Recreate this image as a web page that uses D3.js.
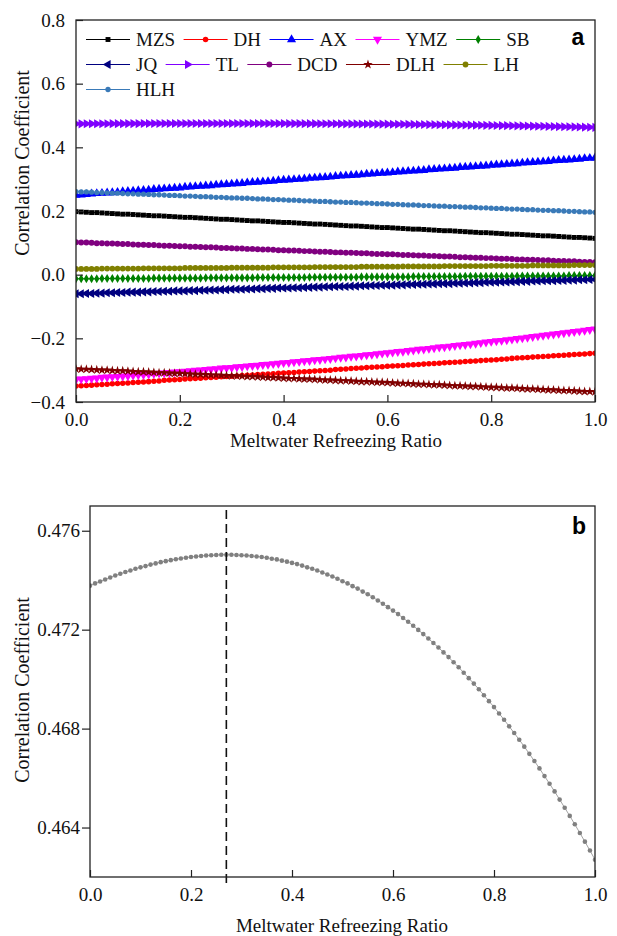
<!DOCTYPE html>
<html>
<head>
<meta charset="utf-8">
<script src="https://cdn.jsdelivr.net/npm/d3@7"></script>
<style>
    body { margin: 0; background: #fff; font-family: "Liberation Serif", Tinos, "Times New Roman", "DejaVu Serif", serif; }
</style>
</head>
<body>
<svg id="chart" width="617" height="936"></svg>
<script>
// meltwater refreezing ratio (x)
var ratio = [0,0.01,0.02,0.03,0.04,0.05,0.06,0.07,0.08,0.09,
    0.1,0.11,0.12,0.13,0.14,0.15,0.16,0.17,0.18,0.19,
    0.2,0.21,0.22,0.23,0.24,0.25,0.26,0.27,0.28,0.29,
    0.3,0.31,0.32,0.33,0.34,0.35,0.36,0.37,0.38,0.39,
    0.4,0.41,0.42,0.43,0.44,0.45,0.46,0.47,0.48,0.49,
    0.5,0.51,0.52,0.53,0.54,0.55,0.56,0.57,0.58,0.59,
    0.6,0.61,0.62,0.63,0.64,0.65,0.66,0.67,0.68,0.69,
    0.7,0.71,0.72,0.73,0.74,0.75,0.76,0.77,0.78,0.79,
    0.8,0.81,0.82,0.83,0.84,0.85,0.86,0.87,0.88,0.89,
    0.9,0.91,0.92,0.93,0.94,0.95,0.96,0.97,0.98,0.99,
    1];

var mzs = [0.198,0.197,0.196,0.195,0.195,0.194,0.193,0.192,0.191,0.190,
    0.190,0.189,0.188,0.187,0.186,0.185,0.185,0.184,0.183,0.182,
    0.181,0.180,0.180,0.179,0.178,0.177,0.176,0.175,0.174,0.174,
    0.173,0.172,0.171,0.170,0.169,0.169,0.168,0.167,0.166,0.165,
    0.164,0.164,0.163,0.162,0.161,0.160,0.159,0.159,0.158,0.157,
    0.156,0.155,0.154,0.153,0.153,0.152,0.151,0.150,0.149,0.148,
    0.148,0.147,0.146,0.145,0.144,0.143,0.143,0.142,0.141,0.140,
    0.139,0.138,0.138,0.137,0.136,0.135,0.134,0.133,0.132,0.132,
    0.131,0.130,0.129,0.128,0.127,0.127,0.126,0.125,0.124,0.123,
    0.122,0.122,0.121,0.120,0.119,0.118,0.117,0.117,0.116,0.115,
    0.114];

var dh = [-0.350,-0.349,-0.348,-0.347,-0.346,-0.345,-0.344,-0.343,-0.342,-0.341,
    -0.340,-0.339,-0.338,-0.337,-0.336,-0.335,-0.334,-0.332,-0.331,-0.330,
    -0.329,-0.328,-0.327,-0.326,-0.325,-0.324,-0.323,-0.322,-0.321,-0.320,
    -0.319,-0.318,-0.317,-0.316,-0.315,-0.314,-0.313,-0.312,-0.311,-0.310,
    -0.309,-0.308,-0.307,-0.306,-0.305,-0.304,-0.303,-0.302,-0.301,-0.300,
    -0.298,-0.297,-0.296,-0.295,-0.294,-0.293,-0.292,-0.291,-0.290,-0.289,
    -0.288,-0.287,-0.286,-0.285,-0.284,-0.283,-0.282,-0.281,-0.280,-0.279,
    -0.278,-0.277,-0.276,-0.275,-0.274,-0.273,-0.272,-0.271,-0.270,-0.269,
    -0.268,-0.267,-0.266,-0.265,-0.263,-0.262,-0.261,-0.260,-0.259,-0.258,
    -0.257,-0.256,-0.255,-0.254,-0.253,-0.252,-0.251,-0.250,-0.249,-0.248,
    -0.247];

var ax = [0.250,0.251,0.252,0.254,0.255,0.256,0.257,0.258,0.259,0.261,
    0.262,0.263,0.264,0.265,0.266,0.268,0.269,0.270,0.271,0.272,
    0.273,0.275,0.276,0.277,0.278,0.279,0.280,0.282,0.283,0.284,
    0.285,0.286,0.287,0.289,0.290,0.291,0.292,0.293,0.294,0.296,
    0.297,0.298,0.299,0.300,0.301,0.303,0.304,0.305,0.306,0.307,
    0.309,0.310,0.311,0.312,0.313,0.314,0.316,0.317,0.318,0.319,
    0.320,0.321,0.323,0.324,0.325,0.326,0.327,0.328,0.330,0.331,
    0.332,0.333,0.334,0.335,0.337,0.338,0.339,0.340,0.341,0.342,
    0.344,0.345,0.346,0.347,0.348,0.349,0.351,0.352,0.353,0.354,
    0.355,0.356,0.358,0.359,0.360,0.361,0.362,0.363,0.365,0.366,
    0.367];

var ymz = [-0.329,-0.328,-0.327,-0.326,-0.325,-0.323,-0.322,-0.321,-0.320,-0.319,
    -0.318,-0.316,-0.315,-0.314,-0.313,-0.311,-0.310,-0.309,-0.308,-0.306,
    -0.305,-0.304,-0.302,-0.301,-0.300,-0.298,-0.297,-0.296,-0.294,-0.293,
    -0.292,-0.290,-0.289,-0.287,-0.286,-0.285,-0.283,-0.282,-0.280,-0.279,
    -0.277,-0.276,-0.274,-0.273,-0.271,-0.270,-0.268,-0.267,-0.265,-0.264,
    -0.262,-0.260,-0.259,-0.257,-0.256,-0.254,-0.252,-0.251,-0.249,-0.247,
    -0.246,-0.244,-0.242,-0.241,-0.239,-0.237,-0.235,-0.234,-0.232,-0.230,
    -0.228,-0.227,-0.225,-0.223,-0.221,-0.220,-0.218,-0.216,-0.214,-0.212,
    -0.210,-0.208,-0.207,-0.205,-0.203,-0.201,-0.199,-0.197,-0.195,-0.193,
    -0.191,-0.189,-0.187,-0.185,-0.183,-0.181,-0.179,-0.177,-0.175,-0.173,
    -0.171];

var sb = [-0.013,-0.013,-0.013,-0.013,-0.013,-0.012,-0.012,-0.012,-0.012,-0.012,
    -0.012,-0.012,-0.012,-0.012,-0.012,-0.011,-0.011,-0.011,-0.011,-0.011,
    -0.011,-0.011,-0.011,-0.011,-0.011,-0.010,-0.010,-0.010,-0.010,-0.010,
    -0.010,-0.010,-0.010,-0.010,-0.010,-0.009,-0.009,-0.009,-0.009,-0.009,
    -0.009,-0.009,-0.009,-0.009,-0.009,-0.008,-0.008,-0.008,-0.008,-0.008,
    -0.008,-0.008,-0.008,-0.008,-0.008,-0.007,-0.007,-0.007,-0.007,-0.007,
    -0.007,-0.007,-0.007,-0.007,-0.007,-0.006,-0.006,-0.006,-0.006,-0.006,
    -0.006,-0.006,-0.006,-0.006,-0.006,-0.005,-0.005,-0.005,-0.005,-0.005,
    -0.005,-0.005,-0.005,-0.005,-0.005,-0.004,-0.004,-0.004,-0.004,-0.004,
    -0.004,-0.004,-0.004,-0.004,-0.004,-0.003,-0.003,-0.003,-0.003,-0.003,
    -0.003];

var jq = [-0.060,-0.060,-0.059,-0.059,-0.058,-0.058,-0.057,-0.057,-0.056,-0.056,
    -0.055,-0.055,-0.055,-0.054,-0.054,-0.053,-0.053,-0.052,-0.052,-0.051,
    -0.051,-0.051,-0.050,-0.050,-0.049,-0.049,-0.048,-0.048,-0.047,-0.047,
    -0.046,-0.046,-0.046,-0.045,-0.045,-0.044,-0.044,-0.043,-0.043,-0.042,
    -0.042,-0.042,-0.041,-0.041,-0.040,-0.040,-0.039,-0.039,-0.038,-0.038,
    -0.037,-0.037,-0.037,-0.036,-0.036,-0.035,-0.035,-0.034,-0.034,-0.033,
    -0.033,-0.033,-0.032,-0.032,-0.031,-0.031,-0.030,-0.030,-0.029,-0.029,
    -0.028,-0.028,-0.028,-0.027,-0.027,-0.026,-0.026,-0.025,-0.025,-0.024,
    -0.024,-0.024,-0.023,-0.023,-0.022,-0.022,-0.021,-0.021,-0.020,-0.020,
    -0.019,-0.019,-0.019,-0.018,-0.018,-0.017,-0.017,-0.016,-0.016,-0.015,
    -0.015];

// TL is also the series shown in detail in panel b
var tl = [0.47378,0.47387,0.47395,0.47403,0.47411,0.47419,0.47426,0.47433,0.47439,0.47446,
    0.47452,0.47457,0.47463,0.47468,0.47473,0.47477,0.47481,0.47485,0.47488,0.47491,
    0.47494,0.47496,0.47498,0.47500,0.47501,0.47502,0.47503,0.47503,0.47503,0.47502,
    0.47501,0.47500,0.47498,0.47496,0.47494,0.47491,0.47487,0.47484,0.47479,0.47475,
    0.47470,0.47465,0.47459,0.47452,0.47446,0.47439,0.47431,0.47423,0.47415,0.47406,
    0.47396,0.47387,0.47376,0.47366,0.47354,0.47343,0.47331,0.47318,0.47305,0.47291,
    0.47277,0.47263,0.47247,0.47232,0.47216,0.47199,0.47182,0.47164,0.47146,0.47128,
    0.47108,0.47089,0.47068,0.47048,0.47026,0.47004,0.46982,0.46959,0.46935,0.46911,
    0.46887,0.46861,0.46836,0.46809,0.46782,0.46755,0.46727,0.46698,0.46669,0.46639,
    0.46608,0.46577,0.46546,0.46513,0.46480,0.46447,0.46413,0.46378,0.46343,0.46307,
    0.46270];

var dcd = [0.102,0.101,0.101,0.100,0.099,0.099,0.098,0.098,0.097,0.096,
    0.096,0.095,0.094,0.094,0.093,0.093,0.092,0.091,0.091,0.090,
    0.089,0.089,0.088,0.088,0.087,0.086,0.086,0.085,0.084,0.084,
    0.083,0.082,0.082,0.081,0.081,0.080,0.079,0.079,0.078,0.077,
    0.077,0.076,0.076,0.075,0.074,0.074,0.073,0.072,0.072,0.071,
    0.070,0.070,0.069,0.069,0.068,0.067,0.067,0.066,0.065,0.065,
    0.064,0.064,0.063,0.062,0.062,0.061,0.060,0.060,0.059,0.059,
    0.058,0.057,0.057,0.056,0.055,0.055,0.054,0.053,0.053,0.052,
    0.052,0.051,0.050,0.050,0.049,0.048,0.048,0.047,0.047,0.046,
    0.045,0.045,0.044,0.043,0.043,0.042,0.042,0.041,0.040,0.040,
    0.039];

var dlh = [-0.296,-0.297,-0.297,-0.298,-0.299,-0.300,-0.300,-0.301,-0.302,-0.302,
    -0.303,-0.304,-0.305,-0.305,-0.306,-0.307,-0.308,-0.308,-0.309,-0.310,
    -0.310,-0.311,-0.312,-0.313,-0.313,-0.314,-0.315,-0.315,-0.316,-0.317,
    -0.318,-0.318,-0.319,-0.320,-0.320,-0.321,-0.322,-0.323,-0.323,-0.324,
    -0.325,-0.326,-0.326,-0.327,-0.328,-0.328,-0.329,-0.330,-0.331,-0.331,
    -0.332,-0.333,-0.333,-0.334,-0.335,-0.336,-0.336,-0.337,-0.338,-0.338,
    -0.339,-0.340,-0.341,-0.341,-0.342,-0.343,-0.344,-0.344,-0.345,-0.346,
    -0.346,-0.347,-0.348,-0.349,-0.349,-0.350,-0.351,-0.351,-0.352,-0.353,
    -0.354,-0.354,-0.355,-0.356,-0.356,-0.357,-0.358,-0.359,-0.359,-0.360,
    -0.361,-0.362,-0.362,-0.363,-0.364,-0.364,-0.365,-0.366,-0.367,-0.367,
    -0.368];

var lh = [0.018,0.018,0.018,0.018,0.018,0.019,0.019,0.019,0.019,0.019,
    0.019,0.019,0.019,0.020,0.020,0.020,0.020,0.020,0.020,0.020,
    0.020,0.021,0.021,0.021,0.021,0.021,0.021,0.021,0.021,0.021,
    0.022,0.022,0.022,0.022,0.022,0.022,0.022,0.022,0.023,0.023,
    0.023,0.023,0.023,0.023,0.023,0.023,0.024,0.024,0.024,0.024,
    0.024,0.024,0.024,0.024,0.024,0.025,0.025,0.025,0.025,0.025,
    0.025,0.025,0.025,0.026,0.026,0.026,0.026,0.026,0.026,0.026,
    0.026,0.027,0.027,0.027,0.027,0.027,0.027,0.027,0.027,0.027,
    0.028,0.028,0.028,0.028,0.028,0.028,0.028,0.028,0.029,0.029,
    0.029,0.029,0.029,0.029,0.029,0.029,0.030,0.030,0.030,0.030,
    0.030];

var hlh = [0.261,0.260,0.260,0.259,0.258,0.258,0.257,0.256,0.256,0.255,
    0.254,0.254,0.253,0.253,0.252,0.251,0.251,0.250,0.249,0.249,
    0.248,0.247,0.247,0.246,0.245,0.245,0.244,0.243,0.243,0.242,
    0.241,0.241,0.240,0.240,0.239,0.238,0.238,0.237,0.236,0.236,
    0.235,0.234,0.234,0.233,0.232,0.232,0.231,0.230,0.230,0.229,
    0.228,0.228,0.227,0.227,0.226,0.225,0.225,0.224,0.223,0.223,
    0.222,0.221,0.221,0.220,0.219,0.219,0.218,0.217,0.217,0.216,
    0.215,0.215,0.214,0.214,0.213,0.212,0.212,0.211,0.210,0.210,
    0.209,0.208,0.208,0.207,0.206,0.206,0.205,0.204,0.204,0.203,
    0.202,0.202,0.201,0.201,0.200,0.199,0.199,0.198,0.197,0.197,
    0.196];

var seriesNames = ["MZS", "DH", "AX", "YMZ", "SB", "JQ", "TL", "DCD", "DLH", "LH", "HLH"];
var seriesValues = [mzs, dh, ax, ymz, sb, jq, tl, dcd, dlh, lh, hlh];
var seriesColors = ["#000000", "#ff0000", "#0000ff", "#ff00ff", "#008000", "#000080",
    "#8000ff", "#800080", "#800000", "#808000", "#3a7ab8"];

var xTicks = [0, 0.2, 0.4, 0.6, 0.8, 1.0];
var yTicksA = [-0.4, -0.2, 0.0, 0.2, 0.4, 0.6, 0.8];
var yTicksB = [0.464, 0.468, 0.472, 0.476];
var peakRatio = 0.27;

var SERIF = "'Liberation Serif', Tinos, 'Times New Roman', 'DejaVu Serif', serif";
var svg = d3.select("#chart");

// marker shapes, Origin style
var markers = [
    {type: d3.symbolSquare, size: 24, rot: 0},
    {type: d3.symbolCircle, size: 24, rot: 0},
    {type: d3.symbolTriangle, size: 36, rot: 0},
    {type: d3.symbolTriangle, size: 36, rot: 180},
    {type: d3.symbolDiamond, size: 24, rot: 0},
    {type: d3.symbolTriangle, size: 36, rot: -90},
    {type: d3.symbolTriangle, size: 36, rot: 90},
    {type: d3.symbolCircle, size: 28, rot: 0},
    {type: d3.symbolStar, size: 28, rot: 0},
    {type: d3.symbolCircle, size: 26, rot: 0},
    {type: d3.symbolCircle, size: 22, rot: 0}
];

function serif(sel, size) {
    sel.style("font-family", SERIF)
        .style("font-size", size + "px")
        .attr("fill", "#111");
}

function drawFrame(g, x, y) {
    var r = x.range(), d = y.range();
    g.append("rect")
        .attr("x", r[0]).attr("y", d[1])
        .attr("width", r[1] - r[0]).attr("height", d[0] - d[1])
        .attr("fill", "none")
        .attr("stroke", "#222")
        .attr("stroke-width", 1.3);
}

function styleAxis(g) {
    g.attr("font-family", null).attr("font-size", null);
    g.select(".domain").remove();
    g.selectAll(".tick line").attr("stroke", "#222").attr("stroke-width", 1.2);
    g.selectAll(".tick text").call(serif, 19);
}

function addText(x, y, str, size, rotate) {
    var t = svg.append("text")
        .attr("text-anchor", "middle")
        .text(str)
        .call(serif, size);
    if (rotate) {
        t.attr("transform", "translate(" + x + "," + y + ") rotate(-90)");
    } else {
        t.attr("x", x).attr("y", y);
    }
    return t;
}

function addTag(x, y, str) {
    svg.append("text")
        .attr("x", x).attr("y", y)
        .style("font-family", "'Liberation Sans', Arial, sans-serif")
        .style("font-weight", "bold")
        .style("font-size", "23px")
        .attr("text-anchor", "middle")
        .attr("fill", "#000")
        .text(str);
}

function buildPanelA() {
    var x = d3.scaleLinear().domain([0, 1]).range([76, 595]);
    var y = d3.scaleLinear().domain([-0.4, 0.8]).range([402, 20]);

    svg.append("defs").append("clipPath").attr("id", "clip-a")
        .append("rect").attr("x", 76).attr("y", 20).attr("width", 519).attr("height", 382);

    var plot = svg.append("g").attr("clip-path", "url(#clip-a)");
    var line = d3.line()
        .x(function (d, i) { return x(ratio[i]); })
        .y(function (d) { return y(d); });

    seriesValues.forEach(function (vals, k) {
        var g = plot.append("g").attr("class", "series");
        g.append("path")
            .datum(vals)
            .attr("d", line)
            .attr("fill", "none")
            .attr("stroke", seriesColors[k])
            .attr("stroke-width", 1);
        var sym = d3.symbol().type(markers[k].type).size(markers[k].size);
        g.selectAll("path.mk")
            .data(vals)
            .enter().append("path")
            .attr("class", "mk")
            .attr("d", sym)
            .attr("transform", function (d, i) {
                return "translate(" + x(ratio[i]) + "," + y(d) + ") rotate(" + markers[k].rot + ")";
            })
            .attr("fill", seriesColors[k]);
    });

    svg.append("g")
        .attr("transform", "translate(0,402)")
        .call(d3.axisBottom(x).tickValues(xTicks).tickSize(-7).tickPadding(11).tickFormat(d3.format(".1f")))
        .call(styleAxis);

    svg.append("g")
        .attr("transform", "translate(76,0)")
        .call(d3.axisLeft(y).tickValues(yTicksA).tickSize(-7).tickPadding(11).tickFormat(d3.format(".1f")))
        .call(styleAxis);

    drawFrame(svg.append("g"), x, y);

    addText(336, 447, "Meltwater Refreezing Ratio", 19);
    addText(29, 163, "Correlation Coefficient", 20, true);
    addTag(578, 45, "a");

    // legend, 5 entries per row
    var legend = svg.append("g").attr("class", "legend");
    var rows = [[0, 1, 2, 3, 4], [5, 6, 7, 8, 9], [10]];
    rows.forEach(function (row, r) {
        var cx = 86, cy = 39.5 + r * 25;
        row.forEach(function (k) {
            legend.append("line")
                .attr("x1", cx).attr("x2", cx + 44)
                .attr("y1", cy).attr("y2", cy)
                .attr("stroke", seriesColors[k])
                .attr("stroke-width", 1.2);
            legend.append("path")
                .attr("d", d3.symbol().type(markers[k].type).size(markers[k].size)())
                .attr("transform", "translate(" + (cx + 22) + "," + cy + ") rotate(" + markers[k].rot + ")")
                .attr("fill", seriesColors[k]);
            var t = legend.append("text")
                .attr("x", cx + 50).attr("y", cy)
                .attr("dy", "0.35em")
                .text(seriesNames[k])
                .call(serif, 19);
            cx += 50 + t.node().getComputedTextLength() + 8.5;
        });
    });
}

function buildPanelB() {
    var x = d3.scaleLinear().domain([0, 1]).range([90, 595]);
    var y = d3.scaleLinear().domain([0.462, 0.477]).range([877, 506]);

    svg.append("defs").append("clipPath").attr("id", "clip-b")
        .append("rect").attr("x", 90).attr("y", 506).attr("width", 505).attr("height", 371);

    var plot = svg.append("g").attr("clip-path", "url(#clip-b)");
    plot.append("path")
        .datum(tl)
        .attr("d", d3.line()
            .x(function (d, i) { return x(ratio[i]); })
            .y(function (d) { return y(d); }))
        .attr("fill", "none")
        .attr("stroke", "#8c8c8c")
        .attr("stroke-width", 0.8);
    plot.selectAll("circle")
        .data(tl)
        .enter().append("circle")
        .attr("cx", function (d, i) { return x(ratio[i]); })
        .attr("cy", function (d) { return y(d); })
        .attr("r", 2.3)
        .attr("fill", "#808080");

    svg.append("line")
        .attr("x1", x(peakRatio)).attr("x2", x(peakRatio))
        .attr("y1", 510).attr("y2", 886)
        .attr("stroke", "#111")
        .attr("stroke-width", 1.6)
        .attr("stroke-dasharray", "9,5");

    svg.append("g")
        .attr("transform", "translate(0,877)")
        .call(d3.axisBottom(x).tickValues(xTicks).tickSize(-7).tickPadding(11).tickFormat(d3.format(".1f")))
        .call(styleAxis);

    svg.append("g")
        .attr("transform", "translate(90,0)")
        .call(d3.axisLeft(y).tickValues(yTicksB).tickSize(8).tickPadding(2).tickFormat(d3.format(".3f")))
        .call(styleAxis);

    drawFrame(svg.append("g"), x, y);

    addText(342, 932, "Meltwater Refreezing Ratio", 19);
    addText(29, 690, "Correlation Coefficient", 20, true);
    addTag(579, 534, "b");
}

buildPanelA();
buildPanelB();
</script>
</body>
</html>
